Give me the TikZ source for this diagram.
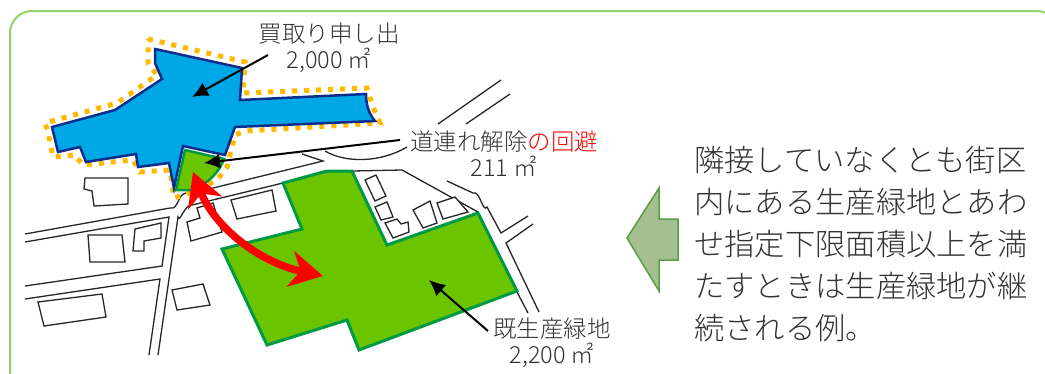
\documentclass[tikz,border=0pt]{standalone}
\usepackage{fontspec}
\setmainfont{Noto Sans CJK JP Light}
\usetikzlibrary{arrows.meta}
\definecolor{framegreen}{HTML}{92D36E}
\definecolor{buyblue}{HTML}{00A7E6}
\definecolor{buyedge}{HTML}{0B2E8C}
\definecolor{dotorange}{HTML}{FFB900}
\definecolor{farmgreen}{HTML}{6AC400}
\definecolor{farmedge}{HTML}{009A44}
\definecolor{textgray}{HTML}{333333}
\definecolor{blockfill}{HTML}{A5BF91}
\definecolor{blockedge}{HTML}{5A9E46}
\tikzset{
  road/.style={line width=1.3pt,black!85},
  house/.style={line width=1.3pt,black!85,fill=white},
  farm/.style={fill=farmgreen,draw=farmedge,line width=3pt,line join=miter},
  leader/.style={line width=2pt,-{Latex[length=16pt,width=15pt]}},
  label/.style={font=\fontsize{23.5}{27}\selectfont,text=textgray,align=center,inner sep=0pt},
}
\begin{document}
\begin{tikzpicture}[x=1pt,y=-1pt]
\useasboundingbox (0,0) rectangle (1045,373);
\fill[white] (0,0) rectangle (1045,373);
\draw[framegreen,line width=2pt,rounded corners=22pt] (10,382)--(10,11)--(1059,11)--(1059,382);

% roads
\draw[road] (25,234)--(170,208) to[out=-15,in=190] (186,193);
\draw[road] (205,190)--(323,161)--(302,154);
\draw[road] (25,242)--(169,217)--(162,266)--(25,286);
\draw[road] (25,299)--(160,279)--(149,355);
\draw[road] (158,355)--(178,217) to[out=-80,in=170] (192,205)--(283,183);
\draw[road] (325,151) .. controls (345,163) and (380,163) .. (407,147);
\draw[road] (438,124)--(501,80);
\draw[road] (466,124)--(510,94);
\draw[road] (352,171)--(402,170)--(478,212);
\draw[road] (447,181)--(473,193) to[out=25,in=-125] (487,207)--(501,233)--(528,216);
\draw[road] (533,224)--(506,243)--(539,312);
\draw[road] (517,292)--(528,313);

% houses
\draw[house] (85,178)--(128,178)--(128,204)--(94,206)--(92,191)--(84,189)--cycle;
\draw[house] (88,235)--(122,235)--(125,262)--(90,262)--cycle;
\draw[house] (135,229)--(161,223)--(161,238)--(144,241)--(144,251)--(133,251)--cycle;
\draw[house] (187,222)--(200,218)--(197,208)--(213,203)--(222,232)--(191,241)--cycle;
\draw[house] (231,200)--(272,190)--(276,211)--(237,219)--cycle;
\draw[house] (172,290)--(203,284)--(210,305)--(177,310)--cycle;
\draw[house] (38,302)--(102,294)--(106,317)--(44,326)--cycle;
\draw[house] (365,180)--(376,175)--(386,196)--(375,201)--cycle;
\draw[house] (375,207)--(387,202)--(393,217)--(381,220)--cycle;
\draw[house] (385,223)--(397,219)--(401,224)--(408,222)--(409,232)--(393,238)--cycle;
\draw[house] (413,210)--(430,201)--(437,223)--(423,228)--cycle;
\draw[house] (437,203)--(455,197)--(468,212)--(443,219)--cycle;

% existing farmland
\draw[farm] (283,183)--(327,171)--(352,171)--(387,245)--(478,213)--(517,291)--(359,350)--(347,320)--(267,345)--(222,249)--(302,229)--cycle;

% offered land
\draw[dotorange,line width=5pt,dash pattern=on 5pt off 7pt]
  (148,39)--(245,62)--(243,93)--(367,88)--(373,107)--(380,123)--(245,131)--(235,135)--(227,167)--(217,180)
  --(193,192)--(174,198)--(170,170)--(140,172)--(133,160)--(83,165)--(75,155)--(53,157)--(48,132)--(45,123)
  --(117,103)--(157,75)--(148,63)--cycle;
\draw[fill=buyblue,draw=buyedge,line width=2.5pt] (155,49)--(242,68)--(240,100)--(366,94) .. controls (366,105) and (369,114) .. (375,121)
  --(235,127)--(225,155)--(183,146)--(174,188)--(169,163)--(138,167)--(136,154)--(86,162)--(80,147)--(58,152)--(52,127)
  --(115,110)--(162,79)--(155,63)--cycle;
\draw[farm,line width=2.5pt] (185,150)--(224,159) .. controls (219,172) and (210,182) .. (193,190)--(176,190)--cycle;

% red arrow
\draw[red,line width=7.5pt,{Stealth[length=33pt,width=36pt,inset=10pt]}-{Stealth[length=33pt,width=36pt,inset=10pt]}]
  (193,172) .. controls (214,226) and (258,262) .. (323,276);

% labels
\node[label] (buy) at (329,48) {買取り申し出\\[-1pt]2,000 ㎡};
\node[label] (avoid) at (504,154) {道連れ解除{\color{red}の回避}\\[-1pt]211 ㎡};
\node[label] (exist) at (552,343) {既生産緑地\\[-1pt]2,200 ㎡};
\coordinate (buytip) at (192,97);
\coordinate (avoidtip) at (204,163);
\coordinate (existtip) at (429,280);
\draw[leader] (268,55)--(buytip);
\draw[leader] (400,140)--(avoidtip);
\draw[leader] (488,331)--(existtip);

% block arrow and note
\draw[fill=blockfill,draw=blockedge,line width=1.5pt]
  (627,238)--(659,188)--(659,219)--(678,219)--(678,260)--(659,260)--(659,291)--cycle;
\node[font=\fontsize{30.3}{41.8}\selectfont,text=textgray,align=left,anchor=west,inner sep=0pt] (note) at (694,244)
  {隣接していなくとも街区\\内にある生産緑地とあわ\\せ指定下限面積以上を満\\たすときは生産緑地が継\\続される例。};
\end{tikzpicture}
\end{document}
